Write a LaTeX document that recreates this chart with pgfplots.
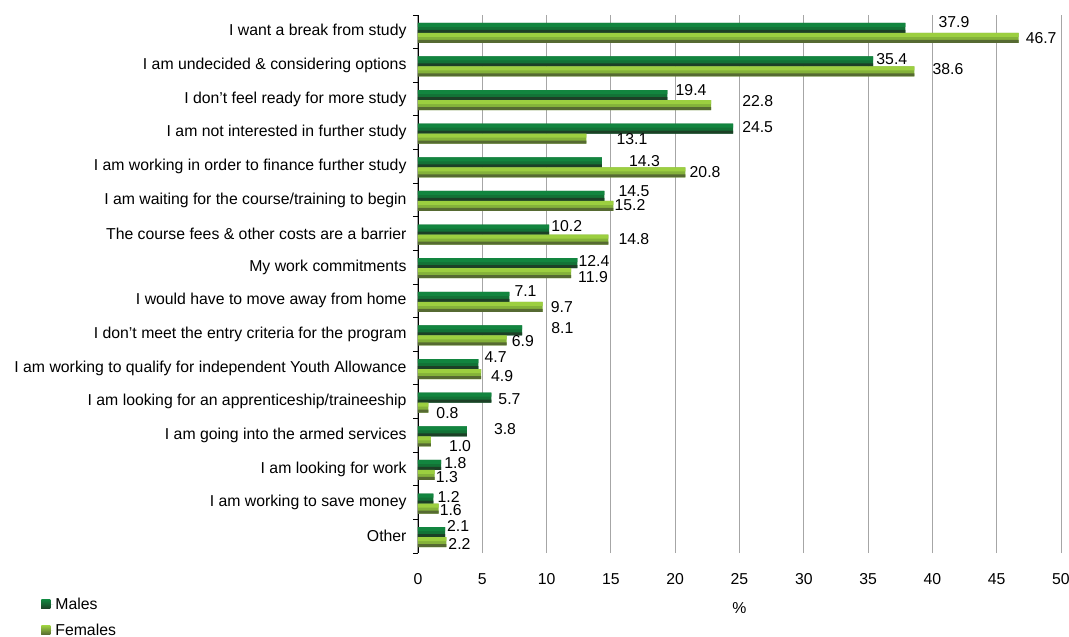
\documentclass[border=0pt]{standalone}
\usepackage{pgfplots}
\pgfplotsset{compat=1.18}
\usepackage{pgfplotstable}
\usepackage{fontspec}
\setmainfont{Liberation Sans}
\definecolor{mtop}{HTML}{12853F}
\definecolor{mmid}{HTML}{137236}
\definecolor{mbot}{HTML}{1C4026}
\definecolor{ftop}{HTML}{9CCF40}
\definecolor{fmid}{HTML}{84B23A}
\definecolor{fbot}{HTML}{566A32}
\definecolor{gridgray}{HTML}{A6A6A6}
\newcommand{\ff}{\fontsize{15.8bp}{18bp}\selectfont}
\pgfplotstableread{
pos m f mdx mdy fdx fdy
15 37.9 46.7 33 6 7 0
14 35.4 38.6 3 2 18 2
13 19.4 22.8 8 5 31 4
12 24.5 13.1 9 2 30 0
11 14.3 20.8 27 1 4 0
10 14.5 15.2 14 5 1 1
9 10.2 14.8 2 3 10 0
8 12.4 11.9 1 2 7 -4
7 7.1 9.7 5 6 8 0
6 8.1 6.9 29 2 5 -1
5 4.7 4.9 6 7 10 -2
4 5.7 0.8 7 -1 8 -5
3 3.8 1.0 27 2 18 -5
2 1.8 1.3 3 2 1 -2
1 1.2 1.6 4 2 1 -1
0 2.1 2.2 2 6 2 -2
}\data
\begin{document}
\begin{tikzpicture}
\useasboundingbox (-418bp,-84bp) rectangle (651bp,553bp);
\begin{axis}[
  width=643bp, height=538bp, scale only axis,
  xmin=0, xmax=50, ymin=-0.5, ymax=15.5,
  axis lines*=left,
  x axis line style={draw=none},
  y axis line style={black, line width=0.8bp},
  xtick={0,5,...,50},
  ytick={0,...,15},
  yticklabels={Other, I am working to save money, I am looking for work, I am going into the armed services, I am looking for an apprenticeship/traineeship, I am working to qualify for independent Youth Allowance, I don't meet the entry criteria for the program, I would have to move away from home, My work commitments, The course fees \& other costs are a barrier, I am waiting for the course/training to begin, I am working in order to finance further study, I am not interested in further study, I don't feel ready for more study, I am undecided \& considering options, I want a break from study},
  minor ytick={-0.5,0.5,...,15.5},
  major tick length=0pt,
  minor tick length=5bp,
  tick align=outside,
  minor tick style={black, line width=0.8bp},
  xmajorgrids, major grid style={gridgray, line width=1bp},
  /pgf/number format/assume math mode=true,
  tick label style={font=\ff},
  xticklabel style={yshift=-17bp},
  yticklabel style={xshift=-8bp},
  xlabel={\%},
  xlabel style={font=\ff, at={(axis description cs:0.5,-0.102)}, anchor=center},
  clip=false,
  legend style={at={(axis description cs:-0.586,-0.079)}, anchor=north west, draw=none, fill=none, font=\ff, row sep=9bp, inner sep=0pt, legend cell align=left},
  point meta=x,
]
% base bars with labels
\addplot[xbar, bar width=10bp, bar shift=4bp, draw=none, fill=mmid,
  legend image code/.code={\fill[top color=mtop, bottom color=mbot] (0bp,-4.5bp) rectangle (9bp,4.5bp); \path (0bp,0bp) -- (12bp,0bp);},
  nodes near coords={\pgfmathprintnumber[fixed,fixed zerofill,precision=1]{\pgfplotspointmeta}},
  visualization depends on={\thisrow{mdx} \as \lx},
  visualization depends on={\thisrow{mdy}+4 \as \ly},
  nodes near coords style={font=\ff, black, anchor=west, inner sep=0pt, xshift=\lx bp, yshift=\ly bp}]
  table[x=m, y=pos] {\data};
\addlegendentry{Males}
\addplot[xbar, bar width=10bp, bar shift=-6bp, draw=none, fill=fmid,
  legend image code/.code={\fill[top color=ftop, bottom color=fbot] (0bp,-4.5bp) rectangle (9bp,4.5bp); \path (0bp,0bp) -- (12bp,0bp);},
  nodes near coords={\pgfmathprintnumber[fixed,fixed zerofill,precision=1]{\pgfplotspointmeta}},
  visualization depends on={\thisrow{fdx} \as \lx},
  visualization depends on={\thisrow{fdy}-6 \as \ly},
  nodes near coords style={font=\ff, black, anchor=west, inner sep=0pt, xshift=\lx bp, yshift=\ly bp}]
  table[x=f, y=pos] {\data};
\addlegendentry{Females}
% shading strips (same values)
\addplot[forget plot, xbar, bar width=4bp, bar shift=7bp, draw=none, fill=mtop] table[x=m, y=pos] {\data};
\addplot[forget plot, xbar, bar width=3bp, bar shift=0.5bp, draw=none, fill=mbot] table[x=m, y=pos] {\data};
\addplot[forget plot, xbar, bar width=4bp, bar shift=-3bp, draw=none, fill=ftop] table[x=f, y=pos] {\data};
\addplot[forget plot, xbar, bar width=3bp, bar shift=-9.5bp, draw=none, fill=fbot] table[x=f, y=pos] {\data};
\end{axis}
\end{tikzpicture}
\end{document}
